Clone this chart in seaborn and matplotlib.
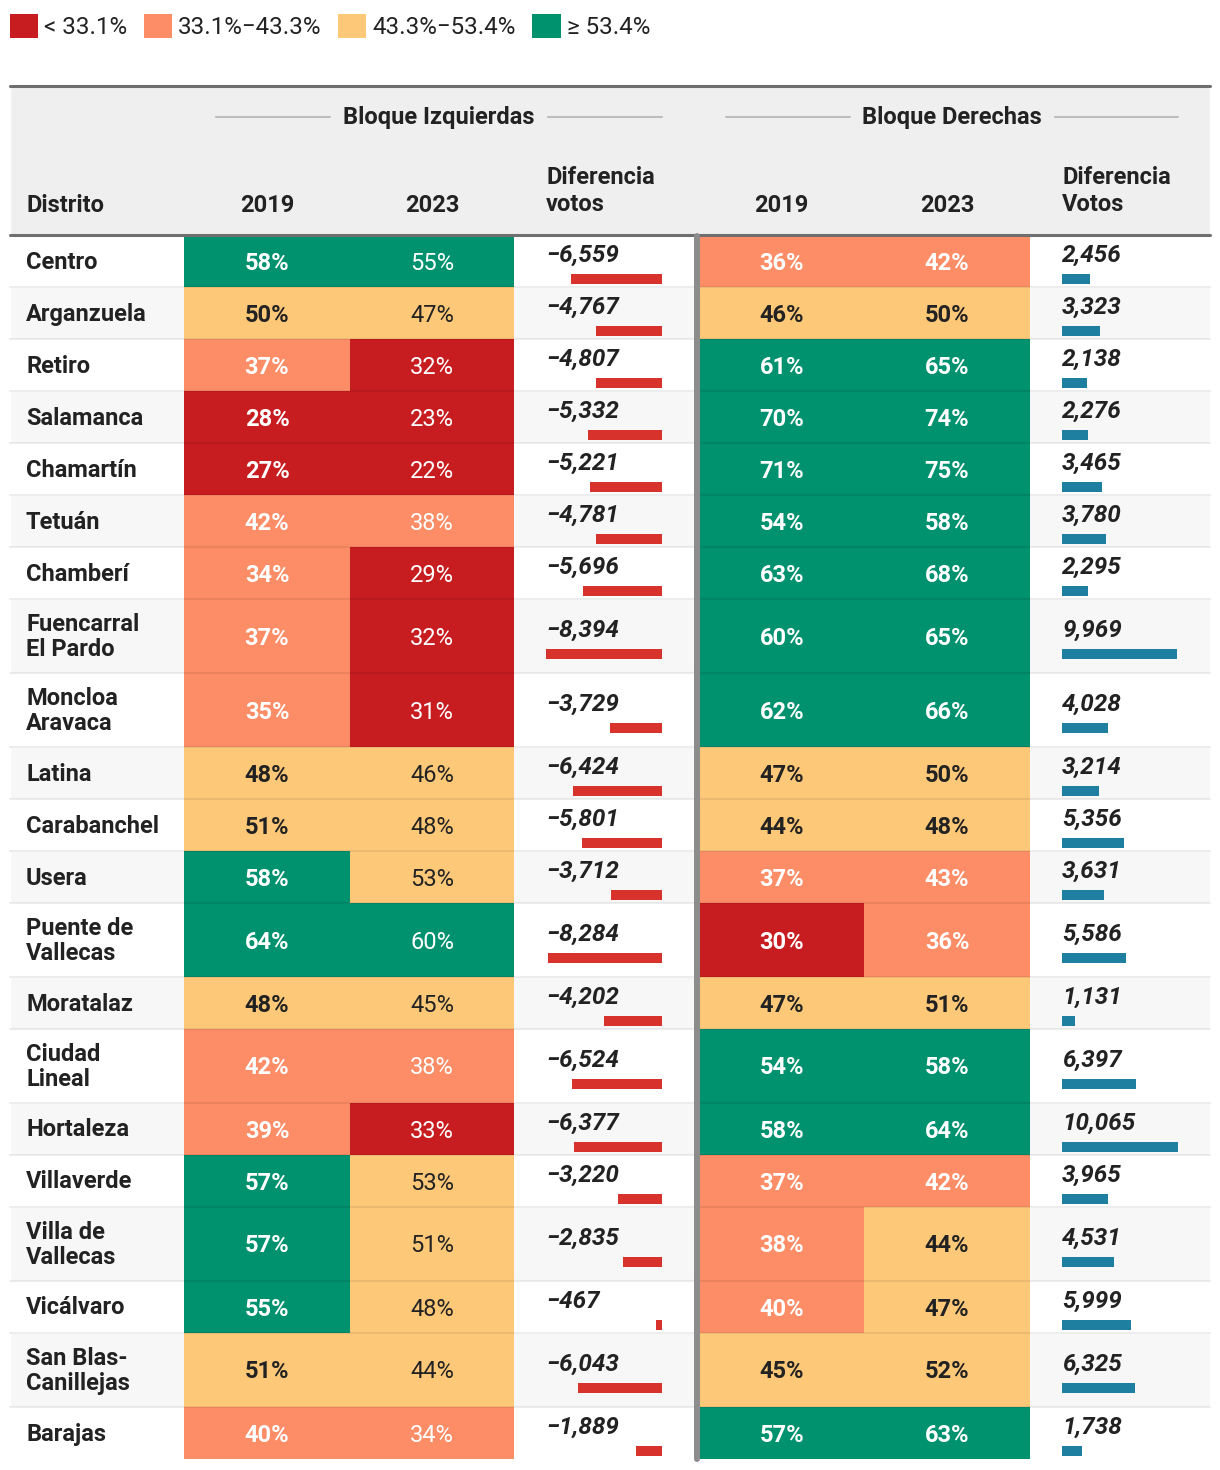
import matplotlib
matplotlib.use("Agg")
import matplotlib.pyplot as plt
from matplotlib.patches import Patch
import seaborn as sns
import numpy as np

distritos = ["Centro", "Arganzuela", "Retiro", "Salamanca", "Chamartín", "Tetuán", "Chamberí",
             "Fuencarral\nEl Pardo", "Moncloa\nAravaca", "Latina", "Carabanchel", "Usera",
             "Puente de\nVallecas", "Moratalaz", "Ciudad\nLineal", "Hortaleza", "Villaverde",
             "Villa de\nVallecas", "Vicálvaro", "San Blas-\nCanillejas", "Barajas"]
izq_2019 = [58, 50, 37, 28, 27, 42, 34, 37, 35, 48, 51, 58, 64, 48, 42, 39, 57, 57, 55, 51, 40]
izq_2023 = [55, 47, 32, 23, 22, 38, 29, 32, 31, 46, 48, 53, 60, 45, 38, 33, 53, 51, 48, 44, 34]
izq_dif = [-6559, -4767, -4807, -5332, -5221, -4781, -5696, -8394, -3729, -6424, -5801,
           -3712, -8284, -4202, -6524, -6377, -3220, -2835, -467, -6043, -1889]
der_2019 = [36, 46, 61, 70, 71, 54, 63, 60, 62, 47, 44, 37, 30, 47, 54, 58, 37, 38, 40, 45, 57]
der_2023 = [42, 50, 65, 74, 75, 58, 68, 65, 66, 50, 48, 43, 36, 51, 58, 64, 42, 44, 47, 52, 63]
der_dif = [2456, 3323, 2138, 2276, 3465, 3780, 2295, 9969, 4028, 3214, 5356,
           3631, 5586, 1131, 6397, 10065, 3965, 4531, 5999, 6325, 1738]

cortes = [33.1, 43.3, 53.4]
colores = ["#c81d20", "#fc8d66", "#fdc878", "#00916f"]
etiquetas_leyenda = ["< 33.1%", "33.1%−43.3%", "43.3%−53.4%", "≥ 53.4%"]

sns.set_theme(style="white")
plt.rcParams["font.family"] = ["Roboto", "DejaVu Sans"]
TXT = "#222222"
FS = 17

fig = plt.figure(figsize=(12.2, 14.7), dpi=100)
ax = fig.add_axes([0, 0, 1, 1])
ax.set_xlim(0, 1220)
ax.set_ylim(1470, 0)
ax.axis("off")

# row layout
alto = np.array([74 if "\n" in d else 52 for d in distritos])
bordes = 235 + np.concatenate([[0], np.cumsum(alto)])
centros = (bordes[:-1] + bordes[1:]) / 2

# header band
ax.barh(160, 1200, left=10, height=150, color="#efefef")
ax.plot([10, 1210], [86, 86], color="#6f6f6f", lw=2.2)

# row backgrounds
fondos = ["white" if i % 2 == 0 else "#f7f7f7" for i in range(len(distritos))]
ax.barh(centros, 1200, left=10, height=alto, color=fondos)


def color_de(v):
    return colores[int(np.searchsorted(cortes, v, side="right"))]


columnas = [(184, 350, izq_2019, "bold"), (350, 514, izq_2023, "normal"),
            (700, 864, der_2019, "bold"), (864, 1030, der_2023, "bold")]
for x0, x1, vals, peso in columnas:
    cols = [color_de(v) for v in vals]
    ax.barh(centros, x1 - x0, left=x0, height=alto, color=cols, linewidth=0)
    for yc, v, c in zip(centros, vals, cols):
        ax.text((x0 + x1) / 2, yc + 2, f"{v}%", ha="center", va="center", fontsize=FS,
                fontweight=peso, color=TXT if c == colores[2] else "white")

# row separators
for b in bordes[1:-1]:
    ax.plot([10, 1210], [b, b], color="black", alpha=0.07, lw=1.5)

ax.plot([10, 1210], [235, 235], color="#6f6f6f", lw=2.2)
ax.plot([697, 697], [236, 1459], color="#8c8c8c", lw=4.3)

# difference bars
esc_izq = 116 / max(abs(v) for v in izq_dif)
esc_der = 116 / max(der_dif)
ax.barh(centros + 18, np.array(izq_dif) * esc_izq, left=662, height=10, color="#d7322b", linewidth=0)
ax.barh(centros + 18, np.array(der_dif) * esc_der, left=1062, height=10, color="#1f7fa1", linewidth=0)
for yc, a, b in zip(centros, izq_dif, der_dif):
    ax.text(546, yc - 6, f"{a:,}".replace("-", "−"), ha="left", va="center", fontsize=17.5,
            fontweight="bold", style="italic", color=TXT)
    ax.text(1062, yc - 6, f"{b:,}", ha="left", va="center", fontsize=17.5,
            fontweight="bold", style="italic", color=TXT)

# district names
for yc, d in zip(centros, distritos):
    ax.text(26, yc + 1, d, ha="left", va="center", fontsize=FS, fontweight="bold",
            color=TXT, linespacing=1.12)

# headers
for xc, titulo, l0, l1, r0, r1 in [(439, "Bloque Izquierdas", 216, 330, 548, 662),
                                    (952, "Bloque Derechas", 726, 850, 1055, 1178)]:
    ax.text(xc, 117, titulo, ha="center", va="center", fontsize=FS, fontweight="bold", color=TXT)
    ax.plot([l0, l1], [117, 117], color="#bdbdbd", lw=1.5)
    ax.plot([r0, r1], [117, 117], color="#bdbdbd", lw=1.5)

ax.text(26, 205, "Distrito", ha="left", va="center", fontsize=FS, fontweight="bold", color=TXT)
for xc, t in [(267, "2019"), (432, "2023"), (781, "2019"), (947, "2023")]:
    ax.text(xc, 205, t, ha="center", va="center", fontsize=FS, fontweight="bold", color=TXT)
ax.text(546, 191, "Diferencia\nvotos", ha="left", va="center", fontsize=FS, fontweight="bold",
        color=TXT, linespacing=1.2)
ax.text(1062, 191, "Diferencia\nVotos", ha="left", va="center", fontsize=FS, fontweight="bold",
        color=TXT, linespacing=1.2)

# legend
manijas = [Patch(facecolor=c, edgecolor="none", label=l) for c, l in zip(colores, etiquetas_leyenda)]
fig.legend(handles=manijas, loc="upper left", bbox_to_anchor=(10 / 1220, 1 - 14 / 1470), ncol=4,
           frameon=False, fontsize=17.4, handlelength=1.17, handleheight=1.17, handletextpad=0.25,
           columnspacing=0.68, borderpad=0, borderaxespad=0, labelcolor=TXT)

fig.savefig("out.png", dpi=100, facecolor="white")
